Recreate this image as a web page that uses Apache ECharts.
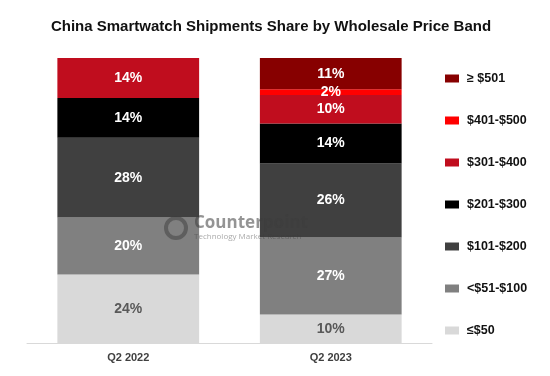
<!DOCTYPE html>
<html>
<head>
<meta charset="utf-8">
<script src="https://cdn.jsdelivr.net/npm/echarts@6/dist/echarts.min.js"></script>
<style>
  html, body { margin: 0; padding: 0; background: #fff; }
  #chart { width: 550px; height: 376px; }
</style>
</head>
<body>
<div id="chart"></div>
<script>
// 季度
var quarters = ['Q2 2022', 'Q2 2023'];
// price bands, bottom to top
var bands = ['≤$50', '<$51-$100', '$101-$200', '$201-$300', '$301-$400', '$401-$500', '≥ $501'];
var bandColors = ['#d9d9d9', '#808080', '#404040', '#000000', '#c00d1e', '#ff0000', '#870000'];
var labelColors = ['#595959', '#fff', '#fff', '#fff', '#fff', '#fff', '#fff'];
// share values (%) per band: [Q2 2022, Q2 2023]
var le50 = [24, 10];
var p51to100 = [20, 27];
var p101to200 = [28, 26];
var p201to300 = [14, 14];
var p301to400 = [14, 10];
var p401to500 = [null, 2];
var ge501 = [null, 11];
var values = [le50, p51to100, p101to200, p201to300, p301to400, p401to500, ge501];

var series = [];
for (var i = 0; i < bands.length; i++) {
	series.push({
		name: bands[i],
		type: 'bar',
		stack: 'share',
		barWidth: '70%',
		data: values[i],
		itemStyle: { color: bandColors[i] },
		label: {
			show: true,
			position: 'inside',
			formatter: '{c}%',
			color: labelColors[i],
			fontFamily: 'Liberation Sans, Arial, sans-serif',
			fontWeight: 'bold',
			fontSize: 14
		}
	});
}

var myChart = echarts.init(document.getElementById('chart'));
var option = {
	backgroundColor: '#fff',
	animation: false,
	title: {
		text: 'China Smartwatch Shipments Share by Wholesale Price Band',
		left: 266,
		textAlign: 'center',
		top: 14,
		textStyle: {
			fontFamily: 'Liberation Sans, Arial, sans-serif',
			fontWeight: 'bold',
			fontSize: 15,
			color: '#111'
		}
	},
	legend: {
		orient: 'vertical',
		left: 440,
		top: 67,
		itemWidth: 14,
		itemHeight: 8,
		itemGap: 29,
		icon: 'rect',
		data: bands.slice().reverse(),
		textStyle: {
			fontFamily: 'Liberation Sans, Arial, sans-serif',
			fontWeight: 'bold',
			fontSize: 12.5,
			color: '#111',
			padding: [0, 0, 0, 3]
		}
	},
	grid: { left: 27, right: 118, top: 58, bottom: 33 },
	xAxis: {
		type: 'category',
		data: quarters,
		axisLine: { lineStyle: { color: '#d9d9d9', width: 1 } },
		axisTick: { show: false },
		axisLabel: {
			margin: 9,
			fontFamily: 'Liberation Sans, Arial, sans-serif',
			fontWeight: 'bold',
			fontSize: 11,
			color: '#404040'
		}
	},
	yAxis: {
		type: 'value',
		min: 0,
		max: 100,
		show: false
	},
	graphic: [
		{
			type: 'circle',
			z: 100,
			shape: { cx: 176, cy: 228, r: 10 },
			style: { fill: 'none', stroke: 'rgba(60,60,60,0.5)', lineWidth: 4 }
		},
		{
			type: 'text',
			z: 100,
			left: 194,
			top: 215,
			style: {
				text: 'Counterpoint',
				font: 'bold 17px "Open Sans", sans-serif',
				fill: 'rgba(60,60,60,0.55)'
			}
		},
		{
			type: 'text',
			z: 100,
			left: 194,
			top: 233,
			style: {
				text: 'Technology Market Research',
				font: '8px "Open Sans", sans-serif',
				fill: 'rgba(60,60,60,0.45)'
			}
		}
	],
	series: series
};
myChart.setOption(option);
</script>
</body>
</html>
